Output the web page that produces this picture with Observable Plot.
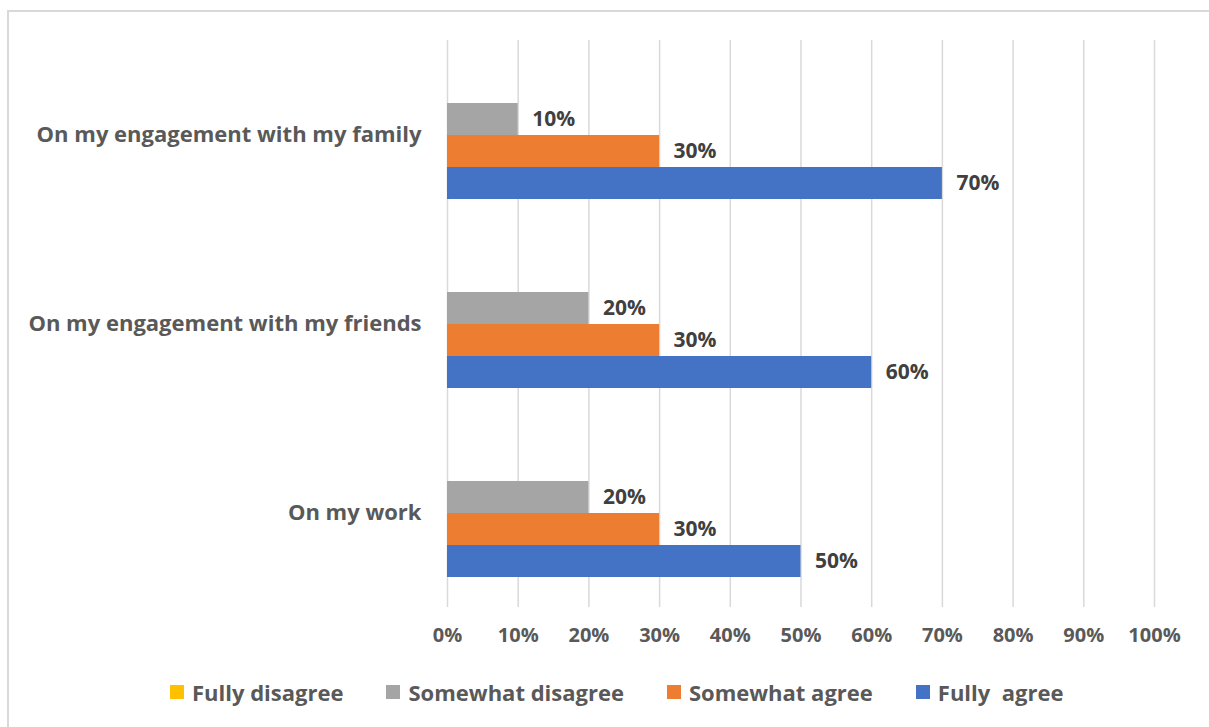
<!DOCTYPE html>
<html><head><meta charset="utf-8">
<script src="https://cdn.jsdelivr.net/npm/d3@7"></script>
<script src="https://cdn.jsdelivr.net/npm/@observablehq/plot@0.6"></script>
<style>
html,body{margin:0;padding:0;background:#fff;overflow:hidden;}
#wrap{position:relative;width:1209px;height:727px;overflow:hidden;font-family:"Open Sans",sans-serif;}
#frame{position:absolute;left:7px;top:10px;width:1300px;height:800px;border:2px solid #d9d9d9;box-sizing:border-box;}
#chart{position:absolute;left:0;top:0;}
#legend{position:absolute;left:170px;top:677px;display:flex;align-items:center;gap:43px;font-weight:bold;font-size:22px;color:#595959;white-space:pre;}
.item{display:flex;align-items:center;gap:8px;}
.sw{width:14px;height:14px;display:inline-block;}
</style>
</head><body>
<div id="wrap"><div id="frame"></div><div id="chart"></div><div id="legend"></div></div>
<script>
const categories = ["On my engagement with my family", "On my engagement with my friends", "On my work"];
const series = ["Fully disagree", "Somewhat disagree", "Somewhat agree", "Fully  agree"];
const colors = ["#FFC000", "#A5A5A5", "#ED7D31", "#4472C4"];
const fullyDisagree = [0, 0, 0];
const somewhatDisagree = [10, 20, 20];
const somewhatAgree = [30, 30, 30];
const fullyAgree = [70, 60, 50];
const xTicks = [0, 10, 20, 30, 40, 50, 60, 70, 80, 90, 100];

const seriesValues = [fullyDisagree, somewhatDisagree, somewhatAgree, fullyAgree];
const data = [];
categories.forEach((c, i) => {
  seriesValues.forEach((arr, j) => data.push({category: c, series: series[j], value: arr[i]}));
});

const chart = Plot.plot({
  width: 1209, height: 660,
  marginLeft: 447, marginRight: 55, marginTop: 40, marginBottom: 53,
  x: {domain: [0, 100], axis: null},
  y: {domain: series, axis: null, paddingInner: 0, paddingOuter: 0.864},
  fy: {domain: categories, axis: null, padding: 0},
  color: {domain: series, range: colors},
  style: {fontFamily: "'Open Sans', sans-serif", background: "transparent"},
  marks: [
    Plot.gridX(xTicks, {stroke: "#d9d9d9", strokeOpacity: 1, strokeWidth: 1.5}),
    Plot.barX(data, {x: "value", y: "series", fy: "category", fill: "series"}),
    Plot.text(data.filter(d => d.value > 0), {x: "value", y: "series", fy: "category", text: d => d.value + "%", textAnchor: "start", dx: 14, fontSize: 21, fontWeight: "bold", fill: "#404040"}),
    Plot.axisX(xTicks, {tickSize: 0, tickPadding: 20, tickFormat: d => d + "%", fontSize: 20, fontWeight: "bold", fill: "#595959", label: null}),
    Plot.axisFy({anchor: "left", tickSize: 0, tickPadding: 26, fontSize: 22, fontWeight: "bold", fill: "#595959", label: null})
  ]
});
document.getElementById("chart").appendChild(chart);

const legend = document.getElementById("legend");
series.forEach((s, i) => {
  const it = document.createElement("div");
  it.className = "item";
  const sw = document.createElement("span");
  sw.className = "sw";
  sw.style.background = colors[i];
  const t = document.createElement("span");
  t.textContent = s;
  it.appendChild(sw); it.appendChild(t);
  legend.appendChild(it);
});
</script>
</body></html>
